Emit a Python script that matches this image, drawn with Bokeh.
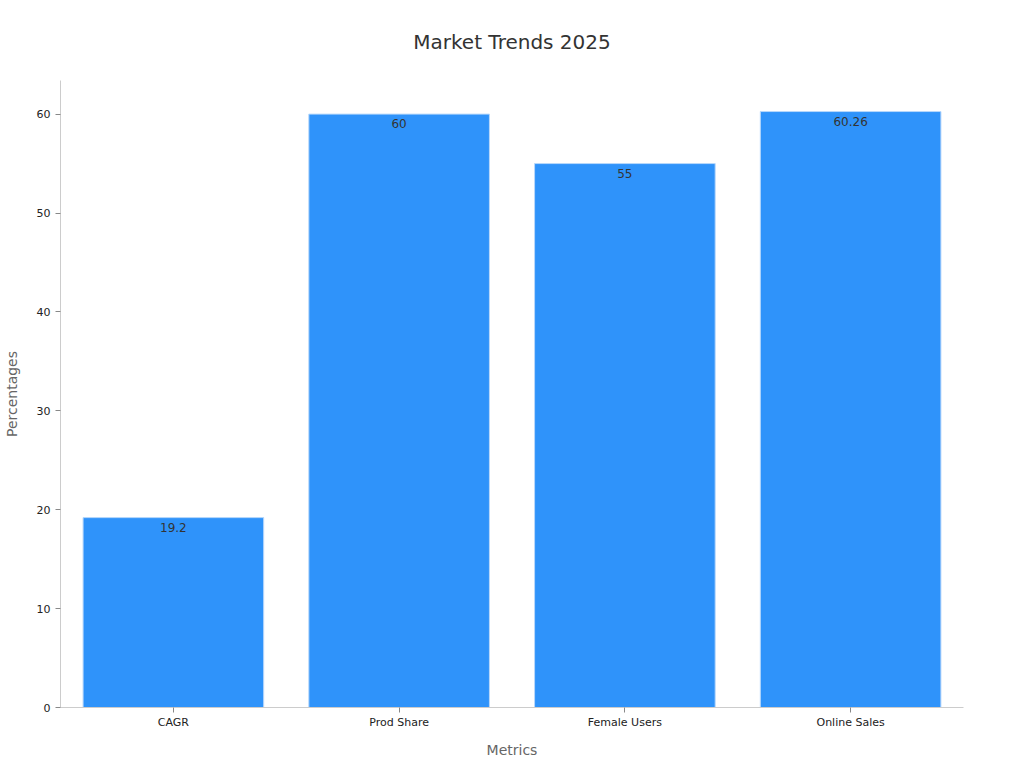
from bokeh.plotting import figure
from bokeh.models import ColumnDataSource, Range1d, LabelSet
from bokeh.embed import file_html
from bokeh.resources import INLINE
from bokeh.core.properties import value

title_text = "Market Trends 2025"
categories = ["CAGR", "Prod Share", "Female Users", "Online Sales"]
values = [19.2, 60, 55, 60.26]
labels = ["19.2", "60", "55", "60.26"]

src = ColumnDataSource(dict(cat=categories, val=values, lab=labels))

FONT = "DejaVu Sans"
p = figure(x_range=categories, y_range=Range1d(0, 63.4), width=1008, height=760,
           output_backend="svg", toolbar_location=None,
           title=title_text,
           min_border_left=51, min_border_right=45, min_border_top=80, min_border_bottom=52)

p.vbar(x="cat", top="val", width=0.8, source=src, fill_color="#2f93fa",
       line_color="#b8d8fb", line_width=1)

p.add_layout(LabelSet(x="cat", y="val", text="lab", source=src, text_align="center",
                      text_baseline="top", y_offset=-5, text_font_size="12px",
                      text_color="#333333", text_font=value(FONT)))

p.title.align = "center"
p.title.text_font = FONT
p.title.text_font_size = "20px"
p.title.text_font_style = "normal"
p.title.text_color = "#333333"
p.title.standoff = 53

p.xgrid.visible = False
p.ygrid.visible = False
p.outline_line_color = None

for ax in (p.xaxis[0], p.yaxis[0]):
    ax.axis_line_color = "#cccccc"
    ax.major_tick_line_color = "#888888"
    ax.major_tick_out = 5
    ax.major_tick_in = 0
    ax.minor_tick_line_color = None
    ax.major_label_text_font = FONT
    ax.major_label_text_font_size = "11px"
    ax.major_label_text_color = "#222222"
    ax.axis_label_text_font = FONT
    ax.axis_label_text_font_size = "14px"
    ax.axis_label_text_font_style = "normal"
    ax.axis_label_text_color = "#666666"

p.yaxis.ticker = [0, 10, 20, 30, 40, 50, 60]
p.yaxis.axis_label = "Percentages"
p.xaxis.axis_label = "Metrics"
p.xaxis.major_label_standoff = 3
p.xaxis.axis_label_standoff = 10
p.yaxis.axis_label_standoff = 14

open("out.html", "w").write(file_html(p, INLINE))
